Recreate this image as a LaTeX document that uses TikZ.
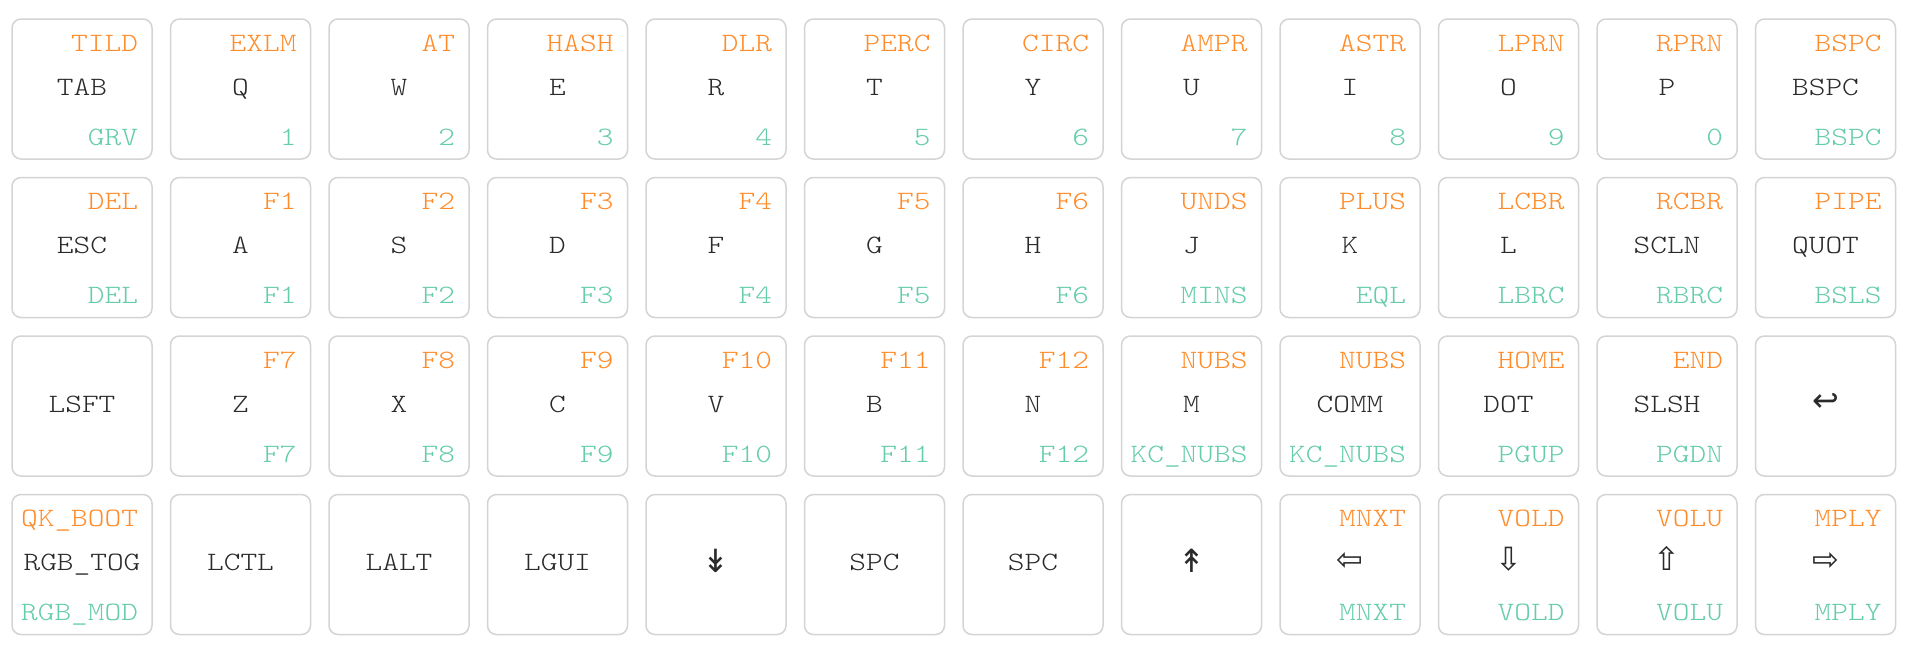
\documentclass[tikz,border=0pt]{standalone}
\usepackage{fontspec}
\newfontfamily\keyfont{lmmonolt10-regular.otf}[FakeStretch=1.2]
\newfontfamily\symfont{DejaVu Sans}
\definecolor{keyborder}{HTML}{D4D4D4}
\definecolor{toporange}{HTML}{FF8C2A}
\definecolor{botgreen}{HTML}{66CDAA}
\definecolor{midtext}{HTML}{2A2A2A}
\tikzset{
  keybox/.style={draw=keyborder, line width=1.5pt, fill=white, rounded corners=9pt,
    minimum width=140pt, minimum height=140pt, inner sep=0pt, outer sep=0pt},
  lbl/.style={inner sep=0pt, outer sep=0pt, font=\keyfont\fontsize{26.5}{30}\selectfont},
  toplbl/.style={lbl, anchor=base east, text=toporange},
  midlbl/.style={lbl, anchor=base, text=midtext},
  botlbl/.style={lbl, anchor=base east, text=botgreen},
}
\newcommand\arw[2][0pt]{\raisebox{#1}{\symfont\fontsize{32}{36}\selectfont #2}}
\newcommand\keyat[2]{%
  \pgfmathsetmacro\kx{82+#2*158.5}%
  \pgfmathsetmacro\ky{-(89+#1*158.5)}%
  \node[keybox] (k#1-#2) at (\kx,\ky) {};}
\newcommand\fullkey[5]{%
  \keyat{#1}{#2}%
  \node[toplbl] (k#1-#2-t) at ([xshift=-14pt,yshift=-32.3pt]k#1-#2.north east) {#3};
  \node[midlbl] (k#1-#2-m) at ([yshift=-76.3pt]k#1-#2.north) {#4};
  \node[botlbl] (k#1-#2-b) at ([xshift=-14pt,yshift=13.6pt]k#1-#2.south east) {#5};}
\newcommand\plainkey[3]{%
  \keyat{#1}{#2}%
  \node[midlbl] (k#1-#2-m) at ([yshift=-76.3pt]k#1-#2.north) {#3};}
\begin{document}
\begin{tikzpicture}[x=1pt,y=1pt]
\useasboundingbox[fill=white] (0,0) rectangle (1905,-651);
% row 0
\fullkey{0}{0}{TILD}{TAB}{GRV}
\fullkey{0}{1}{EXLM}{Q}{1}
\fullkey{0}{2}{AT}{W}{2}
\fullkey{0}{3}{HASH}{E}{3}
\fullkey{0}{4}{DLR}{R}{4}
\fullkey{0}{5}{PERC}{T}{5}
\fullkey{0}{6}{CIRC}{Y}{6}
\fullkey{0}{7}{AMPR}{U}{7}
\fullkey{0}{8}{ASTR}{I}{8}
\fullkey{0}{9}{LPRN}{O}{9}
\fullkey{0}{10}{RPRN}{P}{0}
\fullkey{0}{11}{BSPC}{BSPC}{BSPC}
% row 1
\fullkey{1}{0}{DEL}{ESC}{DEL}
\fullkey{1}{1}{F1}{A}{F1}
\fullkey{1}{2}{F2}{S}{F2}
\fullkey{1}{3}{F3}{D}{F3}
\fullkey{1}{4}{F4}{F}{F4}
\fullkey{1}{5}{F5}{G}{F5}
\fullkey{1}{6}{F6}{H}{F6}
\fullkey{1}{7}{UNDS}{J}{MINS}
\fullkey{1}{8}{PLUS}{K}{EQL}
\fullkey{1}{9}{LCBR}{L}{LBRC}
\fullkey{1}{10}{RCBR}{SCLN}{RBRC}
\fullkey{1}{11}{PIPE}{QUOT}{BSLS}
% row 2
\plainkey{2}{0}{LSFT}
\fullkey{2}{1}{F7}{Z}{F7}
\fullkey{2}{2}{F8}{X}{F8}
\fullkey{2}{3}{F9}{C}{F9}
\fullkey{2}{4}{F10}{V}{F10}
\fullkey{2}{5}{F11}{B}{F11}
\fullkey{2}{6}{F12}{N}{F12}
\fullkey{2}{7}{NUBS}{M}{KC\_NUBS}
\fullkey{2}{8}{NUBS}{COMM}{KC\_NUBS}
\fullkey{2}{9}{HOME}{DOT}{PGUP}
\fullkey{2}{10}{END}{SLSH}{PGDN}
\plainkey{2}{11}{\arw[1pt]{↩}}
% row 3
\fullkey{3}{0}{QK\_BOOT}{RGB\_TOG}{RGB\_MOD}
\plainkey{3}{1}{LCTL}
\plainkey{3}{2}{LALT}
\plainkey{3}{3}{LGUI}
\plainkey{3}{4}{\arw[-2pt]{↡}}
\plainkey{3}{5}{SPC}
\plainkey{3}{6}{SPC}
\plainkey{3}{7}{\arw[-2pt]{↟}}
\fullkey{3}{8}{MNXT}{\arw{⇦}}{MNXT}
\fullkey{3}{9}{VOLD}{\arw{⇩}}{VOLD}
\fullkey{3}{10}{VOLU}{\arw{⇧}}{VOLU}
\fullkey{3}{11}{MPLY}{\arw{⇨}}{MPLY}
\end{tikzpicture}
\end{document}
